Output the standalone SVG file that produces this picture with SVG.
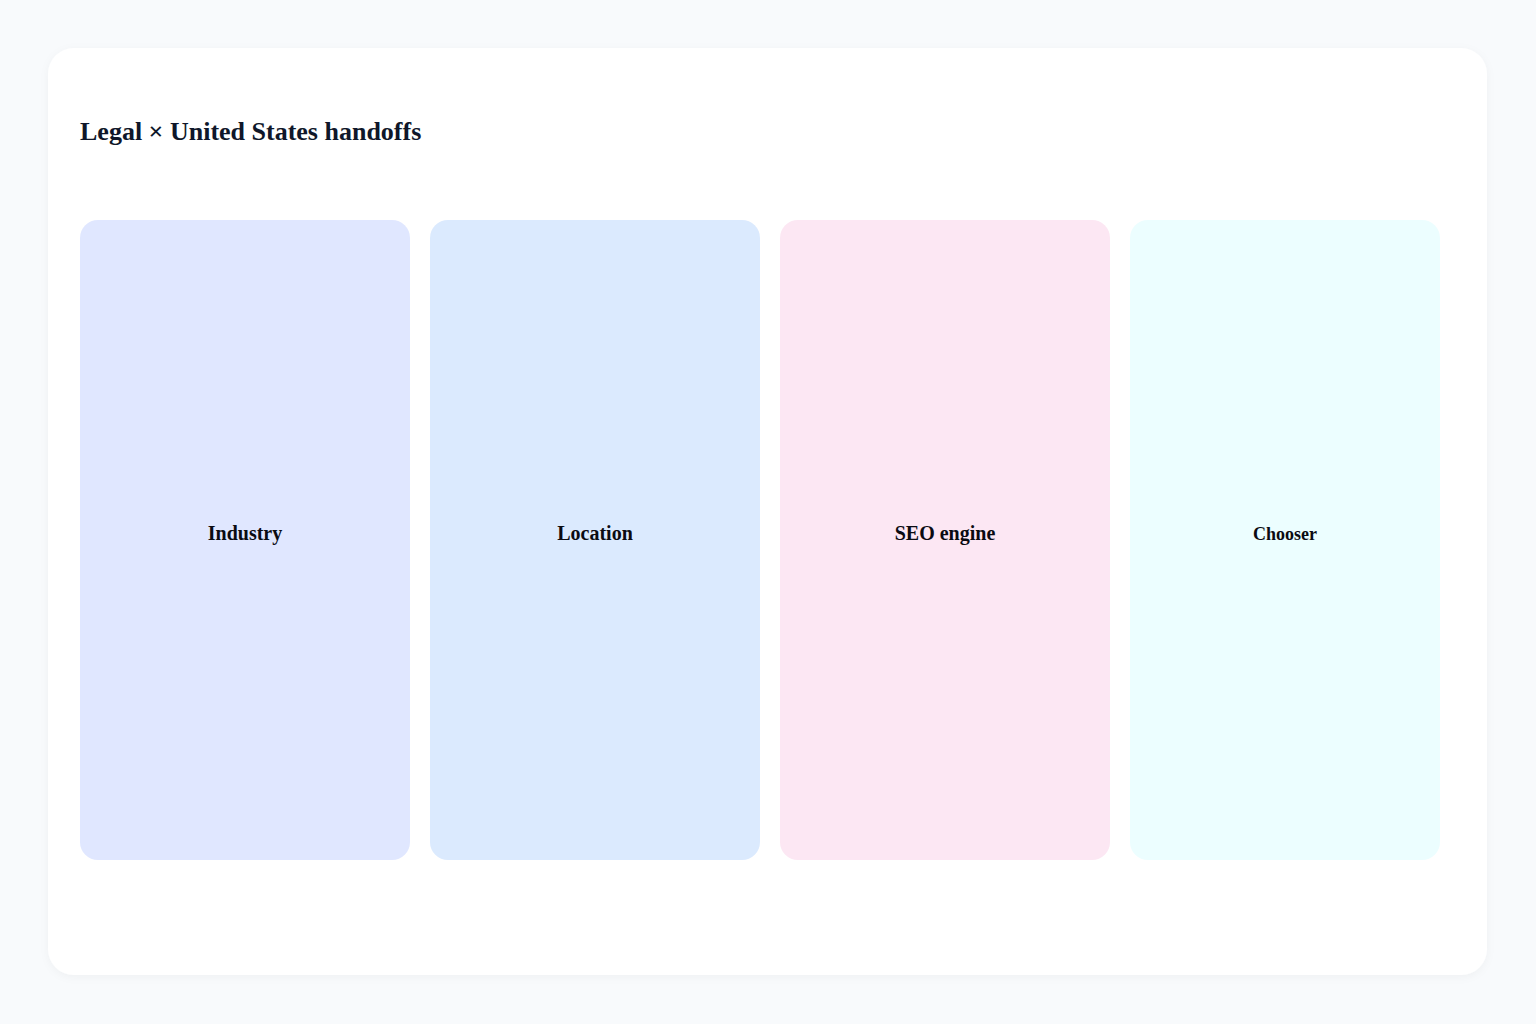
<svg xmlns="http://www.w3.org/2000/svg" width="1536" height="1024" viewBox="0 0 1536 1024">
<defs>
<style>
.lbl{font-family:"Liberation Serif","Times New Roman",serif;font-weight:bold;fill:#0b0b12;text-anchor:middle;}
.title{font-family:"Liberation Serif","Times New Roman",serif;font-weight:bold;font-size:26px;fill:#0f172a;}
</style>
<filter id="sh" x="-5%" y="-5%" width="110%" height="110%">
<feDropShadow dx="0" dy="2" stdDeviation="4" flood-color="#0f172a" flood-opacity="0.04"/>
</filter>
</defs>
<rect width="1536" height="1024" fill="#f8fafc"/>
<rect x="48" y="48" width="1439" height="927" rx="26" fill="#ffffff" filter="url(#sh)"/>
<text class="title" x="80" y="140">Legal × United States handoffs</text>
<g id="connectors"></g>
<g id="industry">
<rect x="80" y="220" width="330" height="640" rx="18" fill="#e0e7ff"/>
<text class="lbl" x="245" y="540" font-size="20">Industry</text>
</g>
<g id="location">
<rect x="430" y="220" width="330" height="640" rx="18" fill="#dbeafe"/>
<text class="lbl" x="595" y="540" font-size="20">Location</text>
</g>
<g id="seo-engine">
<rect x="780" y="220" width="330" height="640" rx="18" fill="#fce7f3"/>
<text class="lbl" x="945" y="540" font-size="20">SEO engine</text>
</g>
<g id="chooser">
<rect x="1130" y="220" width="310" height="640" rx="18" fill="#ecfeff"/>
<text class="lbl" x="1285" y="540" font-size="18">Chooser</text>
</g>
</svg>
